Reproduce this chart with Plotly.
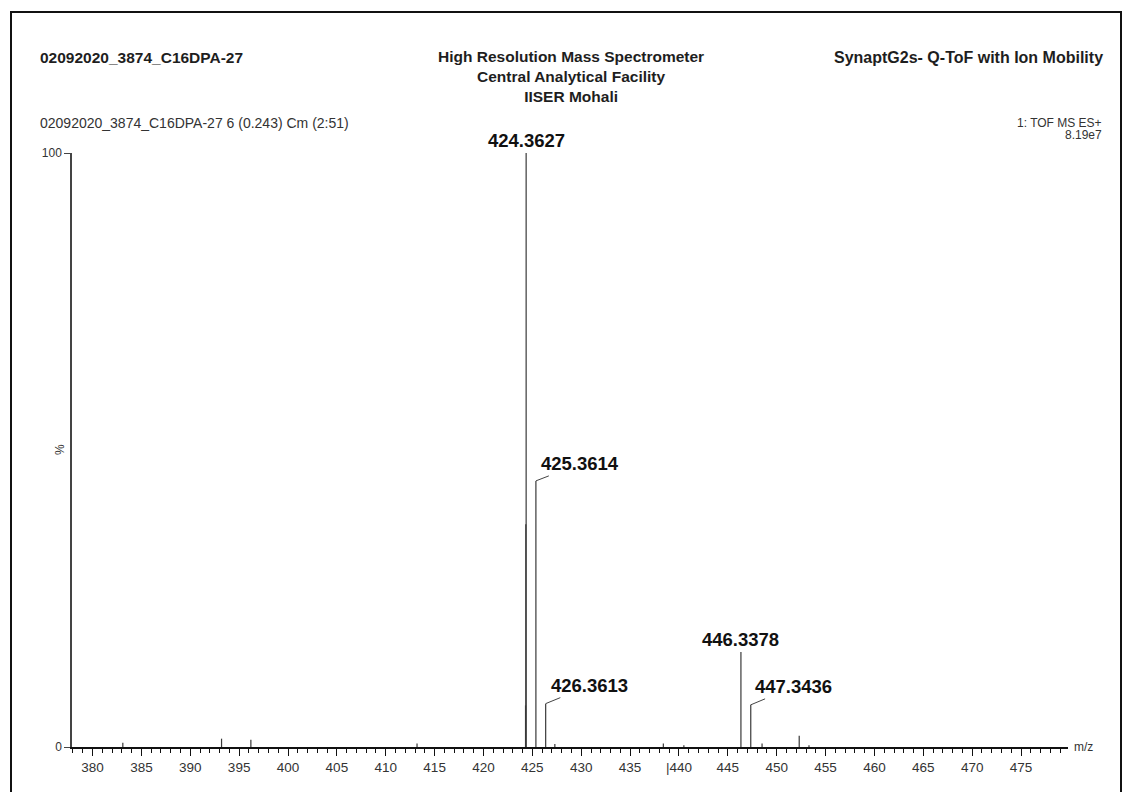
import plotly.graph_objects as go

# ---- data ----
peak_mz = [383.1, 393.2, 396.2, 413.2, 424.30, 424.33, 424.3627, 425.3614, 426.3613,
           427.3, 438.4, 440.5, 446.3378, 447.3436, 448.5, 452.3, 453.3]
peak_int = [0.7, 1.4, 1.2, 0.6, 7.0, 37.5, 100.0, 44.8, 7.3,
            0.5, 0.6, 0.3, 16.0, 7.1, 0.6, 1.9, 0.3]

labels_plain = ["424.3627", "446.3378"]
labels_plain_mz = [424.3627, 446.3378]
labels_plain_int = [100.0, 16.0]

labels_lead = ["425.3614", "426.3613", "447.3436"]
labels_lead_mz = [425.3614, 426.3613, 447.3436]
labels_lead_int = [44.8, 7.3, 7.1]

x_ticks = list(range(380, 480, 5))
x_ticktext = [("|" + str(v)) if v == 440 else str(v) for v in x_ticks]
y_ticks = [0, 100]
y_ticktext = ["0", "100"]

title_left = "02092020_3874_C16DPA-27"
title_center = "High Resolution Mass Spectrometer<br>Central Analytical Facility<br>IISER Mohali"
title_right = "SynaptG2s- Q-ToF with Ion Mobility"
subtitle = "02092020_3874_C16DPA-27 6 (0.243) Cm (2:51)"
scan_info = "1: TOF MS ES+"
scale_info = "8.19e7"

FONT = "Liberation Sans, Arial, sans-serif"
TXT = "#1e1e1e"

# ---- build stick spectrum ----
xs, ys = [], []
for m, h in zip(peak_mz, peak_int):
    xs += [m, m, None]
    ys += [0, h, None]

fig = go.Figure()
fig.add_trace(go.Scatter(x=xs, y=ys, mode="lines",
                         line=dict(color="#3a3a3a", width=1.2),
                         hoverinfo="skip", showlegend=False))

W, H = 1125, 792
L, R, T, B = 72, 57, 153, 45
pw, ph = W - L - R, H - T - B

def px(xp):
    return (xp - L) / pw

def py(yp):
    return (H - B - yp) / ph

fig.update_layout(
    width=W, height=H,
    margin=dict(l=L, r=R, t=T, b=B),
    paper_bgcolor="white", plot_bgcolor="white",
    font=dict(family=FONT, color=TXT),
    showlegend=False,
)

fig.update_xaxes(
    range=[377.9, 479.8], showgrid=False, zeroline=False,
    showline=True, linecolor="#111", linewidth=2,
    tickmode="array", tickvals=x_ticks, ticktext=x_ticktext,
    ticks="outside", ticklen=7, tickwidth=1.3, tickcolor="#111",
    tickfont=dict(size=13.5, color="#333", family=FONT),
    minor=dict(dtick=1, tick0=380, ticks="outside", ticklen=4, tickwidth=1.2, tickcolor="#111"),
)
fig.update_yaxes(
    range=[0, 100], showgrid=False, zeroline=False,
    showline=True, linecolor="#444", linewidth=1.5,
    tickmode="array", tickvals=y_ticks, ticktext=y_ticktext,
    ticks="outside", ticklen=6, tickwidth=1.3, tickcolor="#444",
    tickfont=dict(size=12, color="#333", family=FONT),
)

# peak labels
for t, m, h in zip(labels_plain, labels_plain_mz, labels_plain_int):
    fig.add_annotation(x=m, y=h, text="<b>" + t + "</b>", showarrow=False,
                       yanchor="bottom", yshift=0,
                       font=dict(size=18.5, color="#111", family=FONT))
for t, m, h, axp, ayp in zip(labels_lead, labels_lead_mz, labels_lead_int,
                             [44, 44, 43], [-17, -18, -18]):
    fig.add_annotation(x=m, y=h, text="<b>" + t + "</b>", showarrow=True,
                       arrowhead=0, arrowwidth=1, arrowcolor="#444",
                       ax=axp, ay=ayp, standoff=0,
                       font=dict(size=18.5, color="#111", family=FONT))

# header texts
fig.add_annotation(xref="paper", yref="paper", x=px(38), y=py(57),
                   xanchor="left", yanchor="middle", showarrow=False,
                   text="<b>" + title_left + "</b>", font=dict(size=15.5, color=TXT))
fig.add_annotation(xref="paper", yref="paper", x=px(571), y=py(77),
                   xanchor="center", yanchor="middle", showarrow=False, align="center",
                   text="<b>" + title_center.replace("<br>", "</b><br><b>") + "</b>",
                   font=dict(size=15.5, color=TXT))
fig.add_annotation(xref="paper", yref="paper", x=px(1105), y=py(57),
                   xanchor="right", yanchor="middle", showarrow=False,
                   text="<b>" + title_right + "</b>", font=dict(size=16, color=TXT))
fig.add_annotation(xref="paper", yref="paper", x=px(38), y=py(123),
                   xanchor="left", yanchor="middle", showarrow=False,
                   text=subtitle, font=dict(size=14, color="#333"))
fig.add_annotation(xref="paper", yref="paper", x=px(1104), y=py(123),
                   xanchor="right", yanchor="middle", showarrow=False,
                   text=scan_info, font=dict(size=12, color="#333"))
fig.add_annotation(xref="paper", yref="paper", x=px(1104), y=py(135),
                   xanchor="right", yanchor="middle", showarrow=False,
                   text=scale_info, font=dict(size=12, color="#333"))

# axis titles
fig.add_annotation(xref="paper", yref="paper", x=px(1072), y=py(747),
                   xanchor="left", yanchor="middle", showarrow=False,
                   text="m/z", font=dict(size=12, color="#333"))
fig.add_annotation(xref="paper", yref="paper", x=px(60), y=py(450),
                   xanchor="center", yanchor="middle", showarrow=False,
                   text="%", textangle=-90, font=dict(size=12, color="#333"))

# outer frame
fig.add_shape(type="rect", xref="paper", yref="paper",
              x0=px(11), x1=px(1121), y0=py(805), y1=py(12),
              line=dict(color="#111", width=2), fillcolor="rgba(0,0,0,0)", layer="below")

fig.write_html("out.html", config={"displayModeBar": False},
               post_script="document.body.style.margin='0px';document.body.style.overflow='hidden';")
